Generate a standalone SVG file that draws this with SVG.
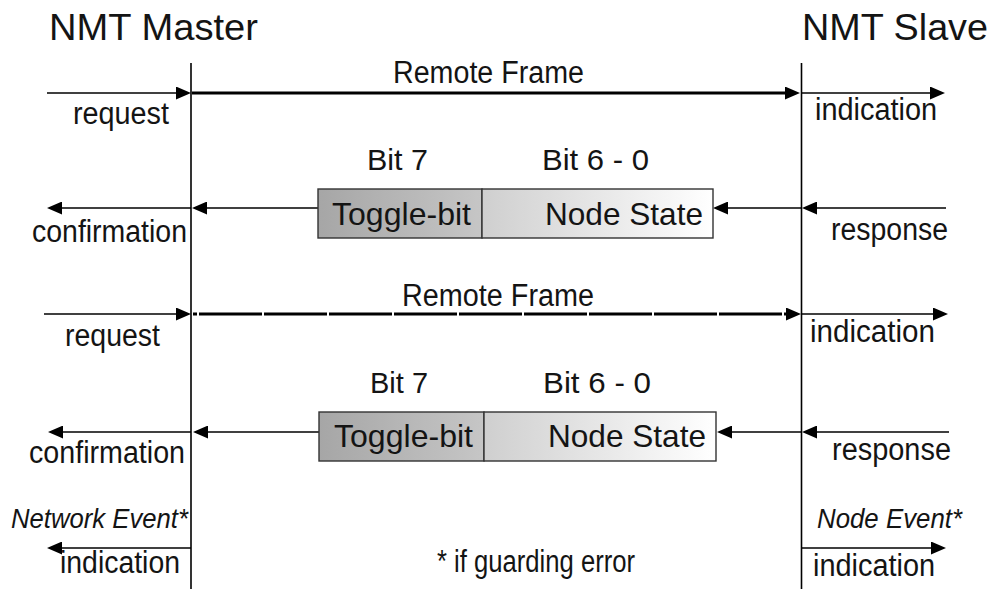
<svg xmlns="http://www.w3.org/2000/svg" width="996" height="589" viewBox="0 0 996 589">
<defs>
<style>
text{font-family:"Liberation Sans",Arial,sans-serif;fill:#141414}
.t{font-size:36px}
.l{font-size:31px}
.b{font-size:30px}
.x{font-size:32px}
.i{font-style:italic;font-size:27px}
.thin{stroke:#000;stroke-width:1.6;fill:none}
.thick{stroke:#000;stroke-width:3;fill:none}
.life{stroke:#000;stroke-width:1.6}
.box{stroke:#333;stroke-width:1.4}
</style>
<marker id="ah" markerUnits="userSpaceOnUse" markerWidth="16" markerHeight="13" refX="10" refY="6.5" orient="auto">
<path d="M0,0 L15,6.5 L0,13 z" fill="#000"/>
</marker>
<linearGradient id="gT" x1="0" x2="1" y1="0" y2="0">
<stop offset="0" stop-color="#a6a6a6"/>
<stop offset="1" stop-color="#c6c6c6"/>
</linearGradient>
<linearGradient id="gN" x1="0" x2="1" y1="0" y2="0">
<stop offset="0" stop-color="#cfcfcf"/>
<stop offset="1" stop-color="#ffffff"/>
</linearGradient>
</defs>
<rect width="996" height="589" fill="#fff"/>

<g id="master">
<text class="t" x="49" y="40" textLength="209" lengthAdjust="spacingAndGlyphs">NMT Master</text>
<line class="life" x1="191" y1="63" x2="191" y2="589"/>
</g>
<g id="slave">
<text class="t" x="802" y="40" textLength="186" lengthAdjust="spacingAndGlyphs">NMT Slave</text>
<line class="life" x1="801.5" y1="63" x2="801.5" y2="589"/>
</g>

<g id="connectors">
<!-- row 1 -->
<line class="thin" x1="47" y1="93" x2="186" y2="93" marker-end="url(#ah)"/>
<line class="thick" x1="192" y1="93" x2="795" y2="93" marker-end="url(#ah)"/>
<line class="thin" x1="802" y1="93" x2="940" y2="93" marker-end="url(#ah)"/>
<!-- row 2 -->
<line class="thin" x1="946" y1="208" x2="807" y2="208" marker-end="url(#ah)"/>
<line class="thin" x1="801" y1="208" x2="718" y2="208" marker-end="url(#ah)"/>
<line class="thin" x1="318" y1="208" x2="197" y2="208" marker-end="url(#ah)"/>
<line class="thin" x1="191" y1="208" x2="52" y2="208" marker-end="url(#ah)"/>
<!-- row 3 -->
<line class="thin" x1="44" y1="314" x2="186" y2="314" marker-end="url(#ah)"/>
<line class="thick" x1="193" y1="314" x2="796" y2="314" stroke-dasharray="4 2 63 2 63 2 63 2 63 2 63 2 63 2 63 2 63 2 63 2 63" marker-end="url(#ah)"/>
<line class="thin" x1="802" y1="314" x2="943" y2="314" marker-end="url(#ah)"/>
<!-- row 4 -->
<line class="thin" x1="949" y1="432" x2="807" y2="432" marker-end="url(#ah)"/>
<line class="thin" x1="801" y1="432" x2="722" y2="432" marker-end="url(#ah)"/>
<line class="thin" x1="319" y1="432" x2="198" y2="432" marker-end="url(#ah)"/>
<line class="thin" x1="191" y1="432" x2="53" y2="432" marker-end="url(#ah)"/>
<!-- row 5 -->
<line class="thin" x1="191" y1="548" x2="52" y2="548" marker-end="url(#ah)"/>
<line class="thin" x1="802" y1="548" x2="941" y2="548" marker-end="url(#ah)"/>
</g>

<g id="labels">
<text class="l" x="393" y="83" textLength="191" lengthAdjust="spacingAndGlyphs">Remote Frame</text>
<text class="l" x="73" y="124" textLength="96" lengthAdjust="spacingAndGlyphs">request</text>
<text class="l" x="815" y="120" textLength="122" lengthAdjust="spacingAndGlyphs">indication</text>
<text class="l" x="32" y="242" textLength="155" lengthAdjust="spacingAndGlyphs">confirmation</text>
<text class="l" x="831" y="240" textLength="117" lengthAdjust="spacingAndGlyphs">response</text>
<text class="l" x="402" y="306" textLength="192" lengthAdjust="spacingAndGlyphs">Remote Frame</text>
<text class="l" x="65" y="346" textLength="95" lengthAdjust="spacingAndGlyphs">request</text>
<text class="l" x="810" y="342" textLength="125" lengthAdjust="spacingAndGlyphs">indication</text>
<text class="l" x="29" y="463" textLength="156" lengthAdjust="spacingAndGlyphs">confirmation</text>
<text class="l" x="832" y="460" textLength="119" lengthAdjust="spacingAndGlyphs">response</text>
<text class="i" x="11" y="528" textLength="177" lengthAdjust="spacingAndGlyphs">Network Event*</text>
<text class="i" x="817" y="528" textLength="145" lengthAdjust="spacingAndGlyphs">Node Event*</text>
<text class="l" x="60" y="573" textLength="120" lengthAdjust="spacingAndGlyphs">indication</text>
<text class="l" x="813" y="576" textLength="122" lengthAdjust="spacingAndGlyphs">indication</text>
<text class="l" x="437" y="572" textLength="198" lengthAdjust="spacingAndGlyphs">* if guarding error</text>
</g>

<g id="frame1">
<text class="b" x="367" y="170" textLength="61" lengthAdjust="spacingAndGlyphs">Bit 7</text>
<text class="b" x="542" y="170" textLength="107" lengthAdjust="spacingAndGlyphs">Bit 6 - 0</text>
<rect class="box" x="318" y="189" width="164" height="49" fill="url(#gT)"/>
<rect class="box" x="482" y="189" width="231" height="49" fill="url(#gN)"/>
<text class="x" x="332" y="225" textLength="139" lengthAdjust="spacingAndGlyphs">Toggle-bit</text>
<text class="x" x="545" y="225" textLength="158" lengthAdjust="spacingAndGlyphs">Node State</text>
</g>

<g id="frame2">
<text class="b" x="370" y="393" textLength="58" lengthAdjust="spacingAndGlyphs">Bit 7</text>
<text class="b" x="543" y="393" textLength="108" lengthAdjust="spacingAndGlyphs">Bit 6 - 0</text>
<rect class="box" x="319" y="412" width="165" height="49" fill="url(#gT)"/>
<rect class="box" x="484" y="412" width="232" height="49" fill="url(#gN)"/>
<text class="x" x="334" y="447" textLength="139" lengthAdjust="spacingAndGlyphs">Toggle-bit</text>
<text class="x" x="548" y="447" textLength="158" lengthAdjust="spacingAndGlyphs">Node State</text>
</g>
</svg>
